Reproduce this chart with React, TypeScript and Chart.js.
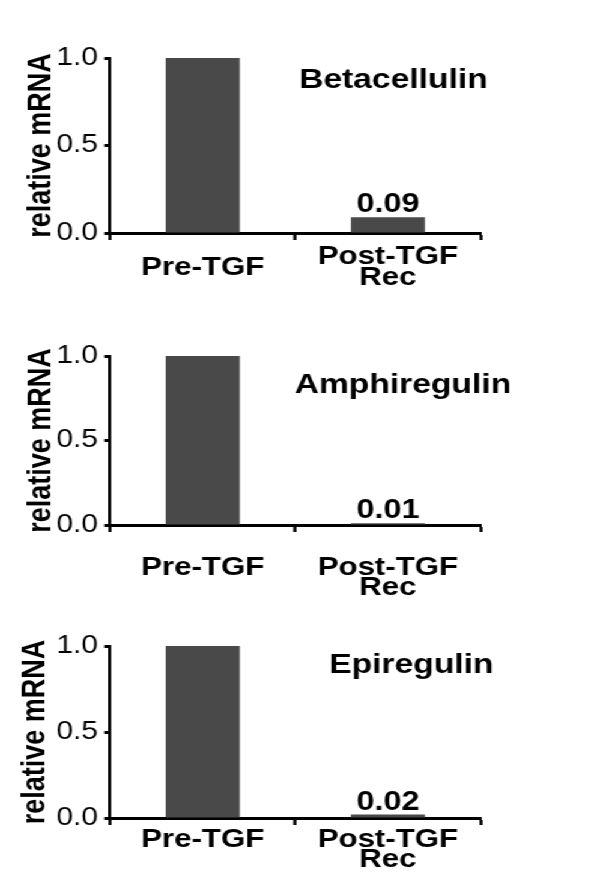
import React, { useEffect, useRef } from "react";
import { Chart, registerables } from "chart.js";

Chart.register(...registerables);

// ---------- data ----------
const categories: string[][] = [["Pre-TGF"], ["Post-TGF", "Rec"]];
const genes: string[] = ["Betacellulin", "Amphiregulin", "Epiregulin"];
const betacellulinValues: number[] = [1.0, 0.09];
const amphiregulinValues: number[] = [1.0, 0.01];
const epiregulinValues: number[] = [1.0, 0.02];
const yTickValues: number[] = [0, 0.5, 1.0];
const yTickLabels: string[] = ["0.0", "0.5", "1.0"];
const yAxisTitle = "relative mRNA";
const labelledIndex = 1; // value label drawn above the Post-TGF bar

// ---------- layout / styles ----------
const DESIGN_W = 492;
const SCALE_X = 591 / DESIGN_W;
const FONT = '"Liberation Sans", Arial, Helvetica, sans-serif';
const BAR_COLOR = "#494949";

type PanelLayout = {
  top: number;
  height: number;
  padTop: number;
  padBottom: number;
  padLeft: number;
  yWidth: number;
  xHeight: number;
  xPad: number;
  crossAlign: "near" | "center";
  titleDx: number;
  titleDy: number;
};

const layouts: PanelLayout[] = [
  { top: 0, height: 310, padTop: 58, padBottom: 7, padLeft: 21, yWidth: 70.7, xHeight: 70, xPad: 17, crossAlign: "center", titleDx: -72.5, titleDy: 30 },
  { top: 310, height: 300, padTop: 46, padBottom: 15, padLeft: 21, yWidth: 70.7, xHeight: 70, xPad: 25, crossAlign: "near", titleDx: -64.6, titleDy: 37 },
  { top: 610, height: 276, padTop: 36, padBottom: 8, padLeft: 16, yWidth: 75.7, xHeight: 60, xPad: 4, crossAlign: "near", titleDx: -57.5, titleDy: 27 },
];

const overlayPlugin = {
  id: "overlay",
  afterDatasetsDraw(chart: any, _args: any, opts: any) {
    const { ctx, chartArea } = chart;
    ctx.save();
    ctx.fillStyle = "#000";
    ctx.textAlign = "center";
    ctx.textBaseline = "alphabetic";
    ctx.font = `bold 28px ${FONT}`;
    ctx.fillText(opts.title, chartArea.right + opts.titleDx, chartArea.top + opts.titleDy);
    const meta = chart.getDatasetMeta(0);
    const el = meta.data[opts.index];
    const v = chart.data.datasets[0].data[opts.index] as number;
    if (el) {
      ctx.font = `bold 27px ${FONT}`;
      ctx.fillText(v.toFixed(2), el.x, el.y - 5);
    }
    ctx.restore();
  },
};

function Panel({ values, gene, layout }: { values: number[]; gene: string; layout: PanelLayout }) {
  const ref = useRef<HTMLCanvasElement | null>(null);
  useEffect(() => {
    if (!ref.current) return;
    const chart = new Chart(ref.current, {
      type: "bar",
      data: {
        labels: categories,
        datasets: [
          {
            data: values,
            backgroundColor: BAR_COLOR,
            borderWidth: 0,
            barPercentage: 0.4,
            categoryPercentage: 1,
          },
        ],
      },
      options: {
        animation: false,
        responsive: true,
        maintainAspectRatio: false,
        devicePixelRatio: 1,
        layout: {
          padding: { top: layout.padTop, bottom: layout.padBottom, left: layout.padLeft, right: DESIGN_W - 400 },
        },
        plugins: {
          legend: { display: false },
          tooltip: { enabled: false },
          overlay: { title: gene, titleDx: layout.titleDx, titleDy: layout.titleDy, index: labelledIndex },
        } as any,
        scales: {
          x: {
            grid: { display: true, drawOnChartArea: false, drawTicks: true, tickLength: 7, tickWidth: 2.5, tickColor: "#000", color: "#000", offset: true },
            border: { display: true, color: "#000", width: 3 },
            ticks: {
              color: "#000",
              padding: layout.xPad,
              crossAlign: layout.crossAlign,
              maxRotation: 0,
              autoSkip: false,
              font: { family: FONT, size: 26, weight: "bold", lineHeight: 0.8 },
            },
            afterFit: (s: any) => {
              s.height = layout.xHeight;
            },
          },
          y: {
            min: 0,
            max: 1,
            afterBuildTicks: (s: any) => {
              s.ticks = yTickValues.map((v) => ({ value: v }));
            },
            grid: { display: true, drawOnChartArea: false, drawTicks: true, tickLength: 5, tickWidth: 3, tickColor: "#000", color: "#000" },
            border: { display: true, color: "#000", width: 2.5 },
            ticks: {
              color: "#000",
              padding: 5,
              font: { family: FONT, size: 25 },
              callback: (_v: any, i: number) => yTickLabels[i],
            },
            title: {
              display: true,
              text: yAxisTitle,
              color: "#000",
              padding: { top: 0, bottom: 0 },
              font: { family: FONT, size: 27, weight: "bold", lineHeight: 1 },
            },
            afterFit: (s: any) => {
              s.width = layout.yWidth;
            },
          },
        },
      } as any,
      plugins: [overlayPlugin],
    });
    return () => chart.destroy();
  }, [values, gene, layout]);

  return (
    <div style={{ position: "absolute", left: 0, top: layout.top, width: DESIGN_W, height: layout.height }}>
      <canvas ref={ref} />
    </div>
  );
}

export default function App() {
  const series = [betacellulinValues, amphiregulinValues, epiregulinValues];
  return (
    <div
      style={{
        position: "absolute",
        left: 0,
        top: 0,
        width: DESIGN_W,
        height: 886,
        background: "#fff",
        transform: `scaleX(${SCALE_X})`,
        transformOrigin: "left top",
      }}
    >
      {series.map((vals, i) => (
        <Panel key={genes[i]} values={vals} gene={genes[i]} layout={layouts[i]} />
      ))}
    </div>
  );
}
